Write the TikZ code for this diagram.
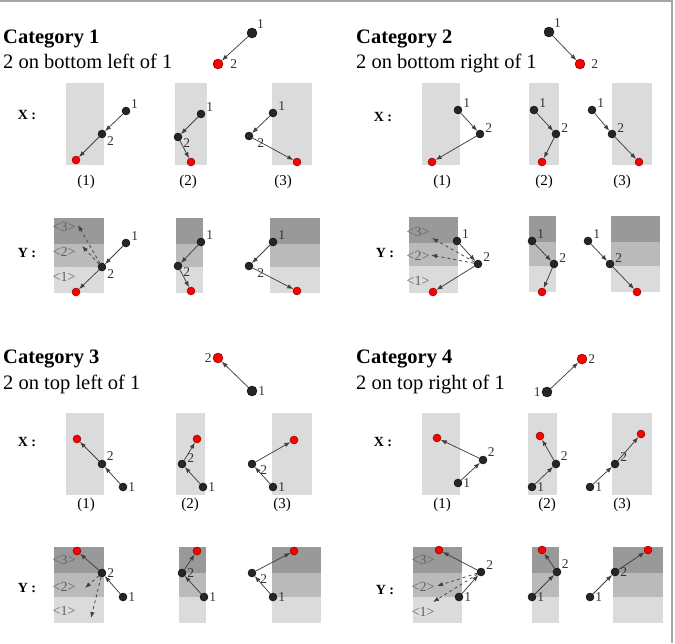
\documentclass[tikz,border=0pt]{standalone}
\usepackage{fontspec}
\setmainfont{Liberation Serif}
\usetikzlibrary{arrows.meta}

\begin{document}
\begin{tikzpicture}[x=1pt, y=-1pt,
    dot/.style={circle, draw=black, fill=black!85, minimum size=8pt, inner sep=0pt},
    hit/.style={dot, fill=red, draw=black!60!red},
    big/.style={minimum size=10pt},
    every label/.style={font=\fontsize{13.5}{13.5}\selectfont, inner sep=1pt, text=black!80},
    link/.style={-{Latex[length=6pt,width=4.5pt]}, draw=black!75, line width=0.75pt},
    guess/.style={link, dashed},
    head/.style={font=\fontsize{20.5}{22}\selectfont\bfseries, anchor=base west, inner sep=0pt},
    sub/.style={font=\fontsize{20.5}{22}\selectfont, anchor=base west, inner sep=0pt},
    rowtag/.style={font=\fontsize{14}{14}\selectfont\bfseries},
    paneltag/.style={font=\fontsize{15}{15}\selectfont},
    bandtag/.style={font=\fontsize{14}{14}\selectfont, text=black!62, inner sep=0pt},
    xbox/.style={fill=black!14},
    lo/.style={fill=black!14}, mid/.style={fill=black!27}, hi/.style={fill=black!40}
  ]
    \useasboundingbox (0,0) rectangle (675,643);
    \draw[black!35, line width=1.5pt] (0,1) -- (672,1) -- (672,643);

    % ---------- Category 1 ----------
    \node[head] (c1head) at (3,43) {Category 1};
    \node[sub] (c1sub) at (3,68) {2 on bottom left of 1};
    \node[dot, big, label={40:1}] (c1a) at (252,33) {};
    \node[hit, big, label={[label distance=6pt]0:2}] (c1b) at (218,64) {};
    \draw[link] (c1a) -- (c1b);

    \node[rowtag] (c1x) at (27,115) {X :};
    \fill[xbox] (66,83) rectangle (104,165);
    \fill[xbox] (175,83) rectangle (207,165);
    \fill[xbox] (272,83) rectangle (312,165);
    \node[dot, label={20:1}] (c1x1a) at (126,111) {};
    \node[dot, label={-20:2}] (c1x1b) at (102,134) {};
    \node[hit] (c1x1c) at (76,160) {};
    \draw[link] (c1x1a) -- (c1x1b);
    \draw[link] (c1x1b) -- (c1x1c);
    \node[dot, label={15:1}] (c1x2a) at (201,114) {};
    \node[dot, label={-10:2}] (c1x2b) at (178,137) {};
    \node[hit] (c1x2c) at (191,162) {};
    \draw[link] (c1x2a) -- (c1x2b);
    \draw[link] (c1x2b) -- (c1x2c);
    \node[dot, label={15:1}] (c1x3a) at (273,113) {};
    \node[dot, label={[label distance=3pt]-10:2}] (c1x3b) at (249,136) {};
    \node[hit] (c1x3c) at (297,162) {};
    \draw[link] (c1x3a) -- (c1x3b);
    \draw[link] (c1x3b) -- (c1x3c);
    \node[paneltag] (c1n1) at (86,182) {(1)};
    \node[paneltag] (c1n2) at (188,182) {(2)};
    \node[paneltag] (c1n3) at (283,182) {(3)};

    \node[rowtag] (c1y) at (27,253) {Y :};
    \fill[hi] (54,218) rectangle (104,244);
    \fill[mid] (54,244) rectangle (104,267);
    \fill[lo] (54,267) rectangle (104,293);
    \fill[hi] (176,218) rectangle (203,244);
    \fill[mid] (176,244) rectangle (203,267);
    \fill[lo] (176,267) rectangle (203,293);
    \fill[hi] (270,218) rectangle (320,244);
    \fill[mid] (270,244) rectangle (320,267);
    \fill[lo] (270,267) rectangle (320,293);
    \node[bandtag] (c1t3) at (64,227) {<3>};
    \node[bandtag] (c1t2) at (64,252) {<2>};
    \node[bandtag] (c1t1) at (64,277) {<1>};
    \node[dot, label={15:1}] (c1y1a) at (126,243) {};
    \node[dot, label={-15:2}] (c1y1b) at (102,267) {};
    \node[hit] (c1y1c) at (76,292) {};
    \coordinate (c1y1p) at (78,225);
    \coordinate (c1y1q) at (82,246);
    \draw[link] (c1y1a) -- (c1y1b);
    \draw[link] (c1y1b) -- (c1y1c);
    \draw[guess] (c1y1b) -- (c1y1p);
    \draw[guess] (c1y1b) -- (c1y1q);
    \node[dot, label={15:1}] (c1y2a) at (201,242) {};
    \node[dot, label={-10:2}] (c1y2b) at (178,266) {};
    \node[hit] (c1y2c) at (191,291) {};
    \draw[link] (c1y2a) -- (c1y2b);
    \draw[link] (c1y2b) -- (c1y2c);
    \node[dot, label={15:1}] (c1y3a) at (273,242) {};
    \node[dot, label={[label distance=3pt]-10:2}] (c1y3b) at (249,266) {};
    \node[hit] (c1y3c) at (297,291) {};
    \draw[link] (c1y3a) -- (c1y3b);
    \draw[link] (c1y3b) -- (c1y3c);

    % ---------- Category 2 ----------
    \node[head] (c2head) at (356,43) {Category 2};
    \node[sub] (c2sub) at (356,68) {2 on bottom right of 1};
    \node[dot, big, label={40:1}] (c2a) at (549,32) {};
    \node[hit, big, label={[label distance=5pt]0:2}] (c2b) at (580,64) {};
    \draw[link] (c2a) -- (c2b);

    \node[rowtag] (c2x) at (383,117) {X :};
    \fill[xbox] (422,83) rectangle (460,165);
    \fill[xbox] (529,83) rectangle (559,165);
    \fill[xbox] (612,83) rectangle (652,165);
    \node[dot, label={15:1}] (c2x1a) at (458,110) {};
    \node[dot, label={10:2}] (c2x1b) at (480,134) {};
    \node[hit] (c2x1c) at (432,162) {};
    \draw[link] (c2x1a) -- (c2x1b);
    \draw[link] (c2x1b) -- (c2x1c);
    \node[dot, label={15:1}] (c2x2a) at (534,110) {};
    \node[dot, label={10:2}] (c2x2b) at (556,134) {};
    \node[hit] (c2x2c) at (542,162) {};
    \draw[link] (c2x2a) -- (c2x2b);
    \draw[link] (c2x2b) -- (c2x2c);
    \node[dot, label={15:1}] (c2x3a) at (592,110) {};
    \node[dot, label={10:2}] (c2x3b) at (612,134) {};
    \node[hit] (c2x3c) at (639,162) {};
    \draw[link] (c2x3a) -- (c2x3b);
    \draw[link] (c2x3b) -- (c2x3c);
    \node[paneltag] (c2n1) at (442,182) {(1)};
    \node[paneltag] (c2n2) at (544,182) {(2)};
    \node[paneltag] (c2n3) at (622,182) {(3)};

    \node[rowtag] (c2y) at (385,253) {Y :};
    \fill[hi] (409,217) rectangle (458,243);
    \fill[mid] (409,243) rectangle (458,266);
    \fill[lo] (409,266) rectangle (458,293);
    \fill[hi] (529,216) rectangle (556,242);
    \fill[mid] (529,242) rectangle (556,266);
    \fill[lo] (529,266) rectangle (556,292);
    \fill[hi] (611,216) rectangle (660,242);
    \fill[mid] (611,242) rectangle (660,266);
    \fill[lo] (611,266) rectangle (660,292);
    \node[bandtag] (c2t3) at (418,232) {<3>};
    \node[bandtag] (c2t2) at (418,256) {<2>};
    \node[bandtag] (c2t1) at (418,281) {<1>};
    \node[dot, label={20:1}] (c2y1a) at (457,241) {};
    \node[dot, label={15:2}] (c2y1b) at (478,264) {};
    \node[hit] (c2y1c) at (433,292) {};
    \coordinate (c2y1p) at (432,238);
    \coordinate (c2y1q) at (431,255);
    \draw[link] (c2y1a) -- (c2y1b);
    \draw[link] (c2y1b) -- (c2y1c);
    \draw[guess] (c2y1b) -- (c2y1p);
    \draw[guess] (c2y1b) -- (c2y1q);
    \node[dot, label={15:1}] (c2y2a) at (532,241) {};
    \node[dot, label={10:2}] (c2y2b) at (554,264) {};
    \node[hit] (c2y2c) at (542,292) {};
    \draw[link] (c2y2a) -- (c2y2b);
    \draw[link] (c2y2b) -- (c2y2c);
    \node[dot, label={15:1}] (c2y3a) at (588,241) {};
    \node[dot, label={10:2}] (c2y3b) at (610,264) {};
    \node[hit] (c2y3c) at (637,292) {};
    \draw[link] (c2y3a) -- (c2y3b);
    \draw[link] (c2y3b) -- (c2y3c);

    % ---------- Category 3 ----------
    \node[head] (c3head) at (3,363) {Category 3};
    \node[sub] (c3sub) at (3,389) {2 on top left of 1};
    \node[hit, big, label={180:2}] (c3c) at (218,358) {};
    \node[dot, big, label={0:1}] (c3a) at (252,391) {};
    \draw[link] (c3a) -- (c3c);

    \node[rowtag] (c3x) at (27,442) {X :};
    \fill[xbox] (66,413) rectangle (104,495);
    \fill[xbox] (176,413) rectangle (205,495);
    \fill[xbox] (272,413) rectangle (312,495);
    \node[hit] (c3x1c) at (77,439) {};
    \node[dot, label={30:2}] (c3x1b) at (102,464) {};
    \node[dot, label={0:1}] (c3x1a) at (123,487) {};
    \draw[link] (c3x1a) -- (c3x1b);
    \draw[link] (c3x1b) -- (c3x1c);
    \node[hit] (c3x2c) at (197,439) {};
    \node[dot, label={5:2}] (c3x2b) at (182,464) {};
    \node[dot, label={0:1}] (c3x2a) at (203,487) {};
    \draw[link] (c3x2a) -- (c3x2b);
    \draw[link] (c3x2b) -- (c3x2c);
    \node[hit] (c3x3c) at (294,440) {};
    \node[dot, label={[label distance=3pt]-5:2}] (c3x3b) at (252,464) {};
    \node[dot, label={0:1}] (c3x3a) at (273,487) {};
    \draw[link] (c3x3a) -- (c3x3b);
    \draw[link] (c3x3b) -- (c3x3c);
    \node[paneltag] (c3n1) at (86,505) {(1)};
    \node[paneltag] (c3n2) at (190,505) {(2)};
    \node[paneltag] (c3n3) at (282,505) {(3)};

    \node[rowtag] (c3y) at (27,588) {Y :};
    \fill[hi] (54,547) rectangle (104,573);
    \fill[mid] (54,573) rectangle (104,597);
    \fill[lo] (54,597) rectangle (104,623);
    \fill[hi] (179,547) rectangle (206,573);
    \fill[mid] (179,573) rectangle (206,597);
    \fill[lo] (179,597) rectangle (206,623);
    \fill[hi] (272,547) rectangle (321,573);
    \fill[mid] (272,573) rectangle (321,597);
    \fill[lo] (272,597) rectangle (321,623);
    \node[bandtag] (c3t3) at (64,560) {<3>};
    \node[bandtag] (c3t2) at (64,587) {<2>};
    \node[bandtag] (c3t1) at (64,611) {<1>};
    \node[hit] (c3y1c) at (77,551) {};
    \node[dot, label={0:2}] (c3y1b) at (102,573) {};
    \node[dot, label={0:1}] (c3y1a) at (123,597) {};
    \coordinate (c3y1p) at (85,588);
    \coordinate (c3y1q) at (91,618);
    \draw[link] (c3y1a) -- (c3y1b);
    \draw[link] (c3y1b) -- (c3y1c);
    \draw[guess] (c3y1b) -- (c3y1p);
    \draw[guess] (c3y1b) -- (c3y1q);
    \node[hit] (c3y2c) at (197,551) {};
    \node[dot, label={0:2}] (c3y2b) at (182,573) {};
    \node[dot, label={0:1}] (c3y2a) at (204,597) {};
    \draw[link] (c3y2a) -- (c3y2b);
    \draw[link] (c3y2b) -- (c3y2c);
    \node[hit] (c3y3c) at (294,551) {};
    \node[dot, label={[label distance=3pt]-5:2}] (c3y3b) at (252,573) {};
    \node[dot, label={0:1}] (c3y3a) at (273,597) {};
    \draw[link] (c3y3a) -- (c3y3b);
    \draw[link] (c3y3b) -- (c3y3c);

    % ---------- Category 4 ----------
    \node[head] (c4head) at (356,363) {Category 4};
    \node[sub] (c4sub) at (356,389) {2 on top right of 1};
    \node[hit, big, label={0:2}] (c4c) at (582,359) {};
    \node[dot, big, label={180:1}] (c4a) at (547,392) {};
    \draw[link] (c4a) -- (c4c);

    \node[rowtag] (c4x) at (383,442) {X :};
    \fill[xbox] (422,413) rectangle (460,495);
    \fill[xbox] (528,413) rectangle (557,495);
    \fill[xbox] (612,413) rectangle (652,495);
    \node[hit] (c4x1c) at (437,438) {};
    \node[dot, label={30:2}] (c4x1b) at (483,460) {};
    \node[dot, label={0:1}] (c4x1a) at (458,483) {};
    \draw[link] (c4x1a) -- (c4x1b);
    \draw[link] (c4x1b) -- (c4x1c);
    \node[hit] (c4x2c) at (540,436) {};
    \node[dot, label={30:2}] (c4x2b) at (556,464) {};
    \node[dot, label={0:1}] (c4x2a) at (532,487) {};
    \draw[link] (c4x2a) -- (c4x2b);
    \draw[link] (c4x2b) -- (c4x2c);
    \node[hit] (c4x3c) at (641,434) {};
    \node[dot, label={15:2}] (c4x3b) at (615,464) {};
    \node[dot, label={0:1}] (c4x3a) at (590,487) {};
    \draw[link] (c4x3a) -- (c4x3b);
    \draw[link] (c4x3b) -- (c4x3c);
    \node[paneltag] (c4n1) at (442,505) {(1)};
    \node[paneltag] (c4n2) at (547,505) {(2)};
    \node[paneltag] (c4n3) at (622,505) {(3)};

    \node[rowtag] (c4y) at (385,590) {Y :};
    \fill[hi] (413,547) rectangle (462,573);
    \fill[mid] (413,573) rectangle (462,597);
    \fill[lo] (413,597) rectangle (462,623);
    \fill[hi] (532,547) rectangle (559,573);
    \fill[mid] (532,573) rectangle (559,597);
    \fill[lo] (532,597) rectangle (559,623);
    \fill[hi] (613,547) rectangle (663,573);
    \fill[mid] (613,573) rectangle (663,597);
    \fill[lo] (613,597) rectangle (663,623);
    \node[bandtag] (c4t3) at (423,560) {<3>};
    \node[bandtag] (c4t2) at (423,587) {<2>};
    \node[bandtag] (c4t1) at (423,612) {<1>};
    \node[hit] (c4y1c) at (439,550) {};
    \node[dot, label={15:2}] (c4y1b) at (481,572) {};
    \node[dot, label={0:1}] (c4y1a) at (459,597) {};
    \coordinate (c4y1p) at (437,586);
    \coordinate (c4y1q) at (433,602);
    \draw[link] (c4y1a) -- (c4y1b);
    \draw[link] (c4y1b) -- (c4y1c);
    \draw[guess] (c4y1b) -- (c4y1p);
    \draw[guess] (c4y1b) -- (c4y1q);
    \node[hit] (c4y2c) at (542,550) {};
    \node[dot, label={30:2}] (c4y2b) at (557,572) {};
    \node[dot, label={0:1}] (c4y2a) at (532,597) {};
    \draw[link] (c4y2a) -- (c4y2b);
    \draw[link] (c4y2b) -- (c4y2c);
    \node[hit] (c4y3c) at (648,550) {};
    \node[dot, label={0:2}] (c4y3b) at (615,572) {};
    \node[dot, label={0:1}] (c4y3a) at (590,597) {};
    \draw[link] (c4y3a) -- (c4y3b);
    \draw[link] (c4y3b) -- (c4y3c);
  \end{tikzpicture}
\end{document}
